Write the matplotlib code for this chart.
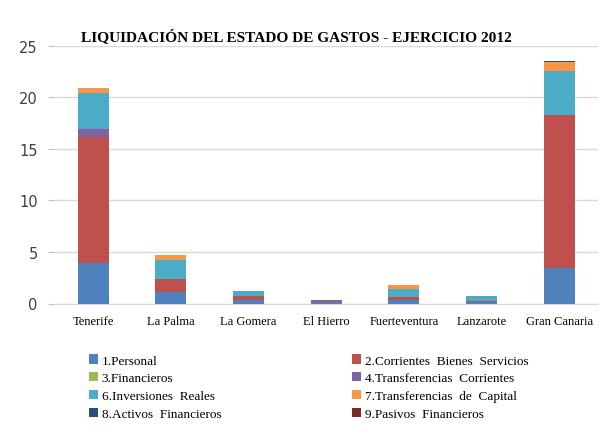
import matplotlib.pyplot as plt
import numpy as np

islas = ['Tenerife', 'La Palma', 'La Gomera', 'El Hierro', 'Fuerteventura', 'Lanzarote', 'Gran Canaria']

# capitulos de gasto (millones)
personal = [3.9, 1.1, 0.35, 0.12, 0.35, 0.1, 3.45]
corrientes = [12.3, 1.3, 0.35, 0.08, 0.25, 0.1, 14.85]
financieros = [0.0, 0.0, 0.0, 0.0, 0.0, 0.0, 0.0]
transf_corr = [0.7, 0.0, 0.0, 0.1, 0.0, 0.05, 0.0]
inversiones = [3.5, 1.85, 0.5, 0.0, 0.8, 0.45, 4.3]
transf_cap = [0.5, 0.5, 0.0, 0.0, 0.4, 0.0, 0.8]
activos = [0.0, 0.0, 0.0, 0.0, 0.0, 0.0, 0.1]
pasivos = [0.0, 0.0, 0.0, 0.0, 0.0, 0.0, 0.0]

series = [
    ('1.Personal', personal, '#4F81BD'),
    ('2.Corrientes  Bienes  Servicios', corrientes, '#C0504D'),
    ('3.Financieros', financieros, '#9BBB59'),
    ('4.Transferencias  Corrientes', transf_corr, '#8064A2'),
    ('6.Inversiones  Reales', inversiones, '#4BACC6'),
    ('7.Transferencias  de  Capital', transf_cap, '#F79646'),
    ('8.Activos  Financieros', activos, '#2C4D75'),
    ('9.Pasivos  Financieros', pasivos, '#772C2A'),
]

fig = plt.figure(figsize=(6.08, 4.35), dpi=100)
ax = fig.add_axes([0.0896, 0.30, 0.894, 0.592])

x = np.arange(len(islas))
bottom = np.zeros(len(islas))
handles = []
for name, vals, col in series:
    h = ax.bar(x, vals, 0.4, bottom=bottom, color=col, label=name, zorder=3)
    bottom += np.array(vals)
    handles.append(h)

ax.set_xlim(-0.5, len(islas) - 0.5)
ax.set_ylim(0, 25)
ax.set_yticks([0, 5, 10, 15, 20, 25])
ax.yaxis.grid(True, color='#D9D9D9', lw=1, zorder=0)
for s in ['top', 'right', 'left']:
    ax.spines[s].set_visible(False)
ax.spines['bottom'].set_color('#D9D9D9')
ax.tick_params(axis='y', length=4, color='#BFBFBF', labelsize=10.5, labelcolor='#404040', pad=8)
ax.tick_params(axis='x', length=0, pad=8)
ax.set_xticks(x)
ax.set_xticklabels(islas, family='Liberation Serif', fontsize=9)

fig.text(0.488, 0.915, 'LIQUIDACIÓN DEL ESTADO DE GASTOS - EJERCICIO 2012',
         ha='center', va='center', family='Liberation Serif', weight='bold', fontsize=11.1)

# legend: row-major order in two columns
order = [0, 2, 4, 6, 1, 3, 5, 7]
leg = fig.legend([handles[i] for i in order], [series[i][0] for i in order],
                 ncol=2, loc='upper left', bbox_to_anchor=(0.138, 0.195),
                 frameon=False, prop={'family': 'Liberation Serif', 'size': 9.5},
                 handlelength=0.7, handleheight=0.7, handletextpad=0.25,
                 columnspacing=9.9, labelspacing=0.42, borderaxespad=0)

fig.savefig('out.png', dpi=100)
